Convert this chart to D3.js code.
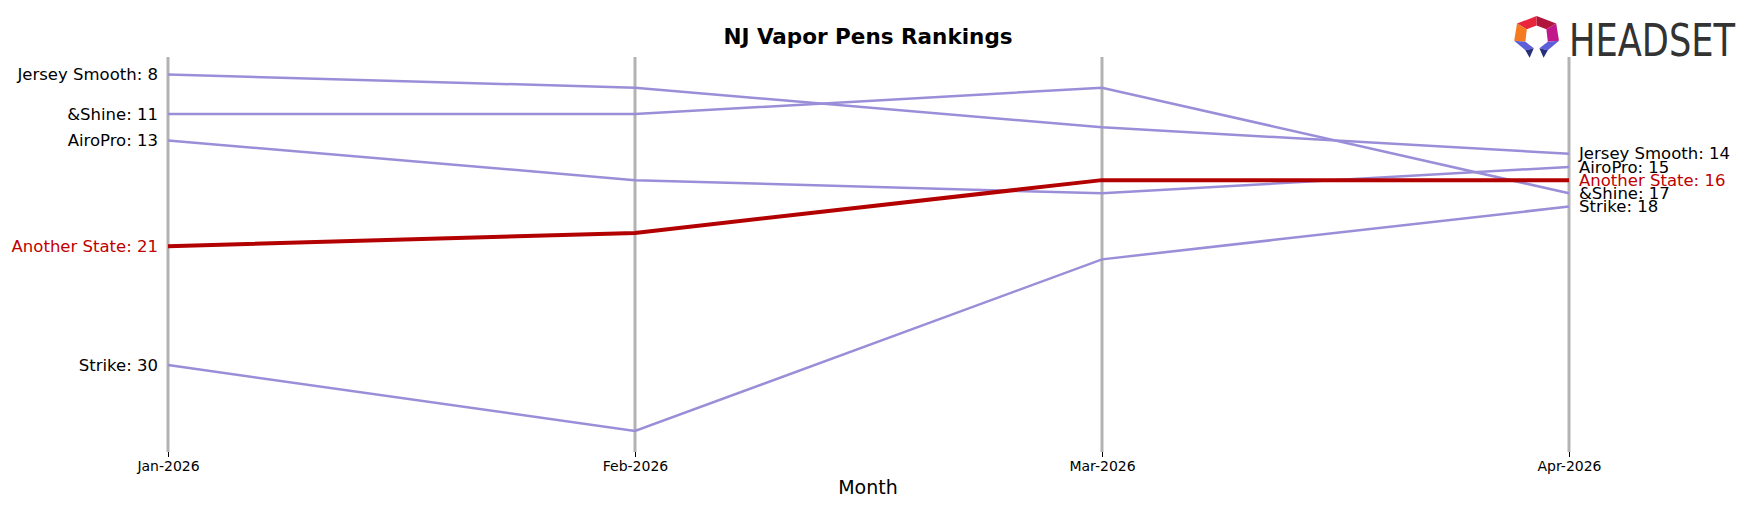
<!DOCTYPE html>
<html><head><meta charset="utf-8">
<script src="https://cdn.jsdelivr.net/npm/d3@7"></script>
<style>body{margin:0;background:#fff}svg{font-family:"DejaVu Sans",sans-serif}</style>
</head><body><svg id="c" width="1752" height="507"></svg>
<script>
const months = ["Jan-2026","Feb-2026","Mar-2026","Apr-2026"];
const brands = ["Jersey Smooth","&Shine","AiroPro","Another State","Strike"];
const jerseySmooth = [8,9,12,14];
const andShine = [11,11,9,17];
const airoPro = [13,16,17,15];
const anotherState = [21,20,16,16];
const strike = [30,35,22,18];
const seriesVals = [jerseySmooth, andShine, airoPro, anotherState, strike];
const highlight = "Another State";

const svg = d3.select("#c");
const x = d3.scalePoint().domain(months).range([168,1569]);
const y = d3.scaleLinear().domain([8,35]).range([74.5,431]);

months.forEach(m=>{
  svg.append("line").attr("x1",x(m)).attr("x2",x(m)).attr("y1",57).attr("y2",452)
    .attr("stroke","#b3b3b3").attr("stroke-width",3);
});
const ax = svg.append("g").attr("transform","translate(0,452)")
  .call(d3.axisBottom(x).tickSize(5).tickPadding(4));
ax.select(".domain").remove();
ax.selectAll("text").attr("font-size",14).attr("font-family","DejaVu Sans");

const line = d3.line().x((d,i)=>x(months[i])).y(d=>y(d));
brands.forEach((b,k)=>{
  const hl = b===highlight;
  svg.append("path").datum(seriesVals[k]).attr("d",line).attr("fill","none")
    .attr("stroke",hl?"#b30000":"#9b8ed8").attr("stroke-width",hl?4:2.5);
});
brands.forEach((b,k)=>{
  const hl = b===highlight, v=seriesVals[k];
  svg.append("text").attr("x",x(months[0])-10).attr("y",y(v[0])).attr("dy","0.35em")
    .attr("text-anchor","end").attr("font-size",16.5).attr("fill",hl?"#c00000":"#000").text(b+": "+v[0]);
  svg.append("text").attr("x",x(months[3])+10).attr("y",y(v[3])).attr("dy","0.35em")
    .attr("font-size",16.5).attr("fill",hl?"#c00000":"#000").text(b+": "+v[3]);
});
svg.append("text").attr("x",868).attr("y",44).attr("text-anchor","middle")
  .attr("font-size",21.5).attr("font-weight","bold").text("NJ Vapor Pens Rankings");
svg.append("text").attr("x",868).attr("y",494).attr("text-anchor","middle")
  .attr("font-size",19).text("Month");

// logo
const lg = svg.append("g").attr("transform","translate(1517,16) scale(1.4,0.95)");
const polys = [
 ["#e8253a",[[0,8],[14,0],[14,10],[7,14]]],
 ["#b0163c",[[14,0],[28,8],[21,14],[14,10]]],
 ["#f47b20",[[0,8],[7,14],[6,27],[-2,26]]],
 ["#c0178a",[[28,8],[30,26],[22,27],[21,14]]],
 ["#5e5ed8",[[-2,26],[6,27],[12,34],[6,36]]],
 ["#5e5ed8",[[30,26],[22,27],[16,34],[22,36]]],
 ["#27307a",[[6,36],[12,34],[9,44]]],
 ["#27307a",[[22,36],[16,34],[19,44]]]
];
polys.forEach(p=>lg.append("polygon").attr("points",p[1].map(q=>q.join(",")).join(" ")).attr("fill",p[0]));
svg.append("text").attr("x",1569).attr("y",56).attr("font-size",44)
  .attr("font-family","DejaVu Sans Condensed, DejaVu Sans").attr("fill","#333")
  .attr("textLength",166).attr("lengthAdjust","spacingAndGlyphs").text("HEADSET");
</script></body></html>
